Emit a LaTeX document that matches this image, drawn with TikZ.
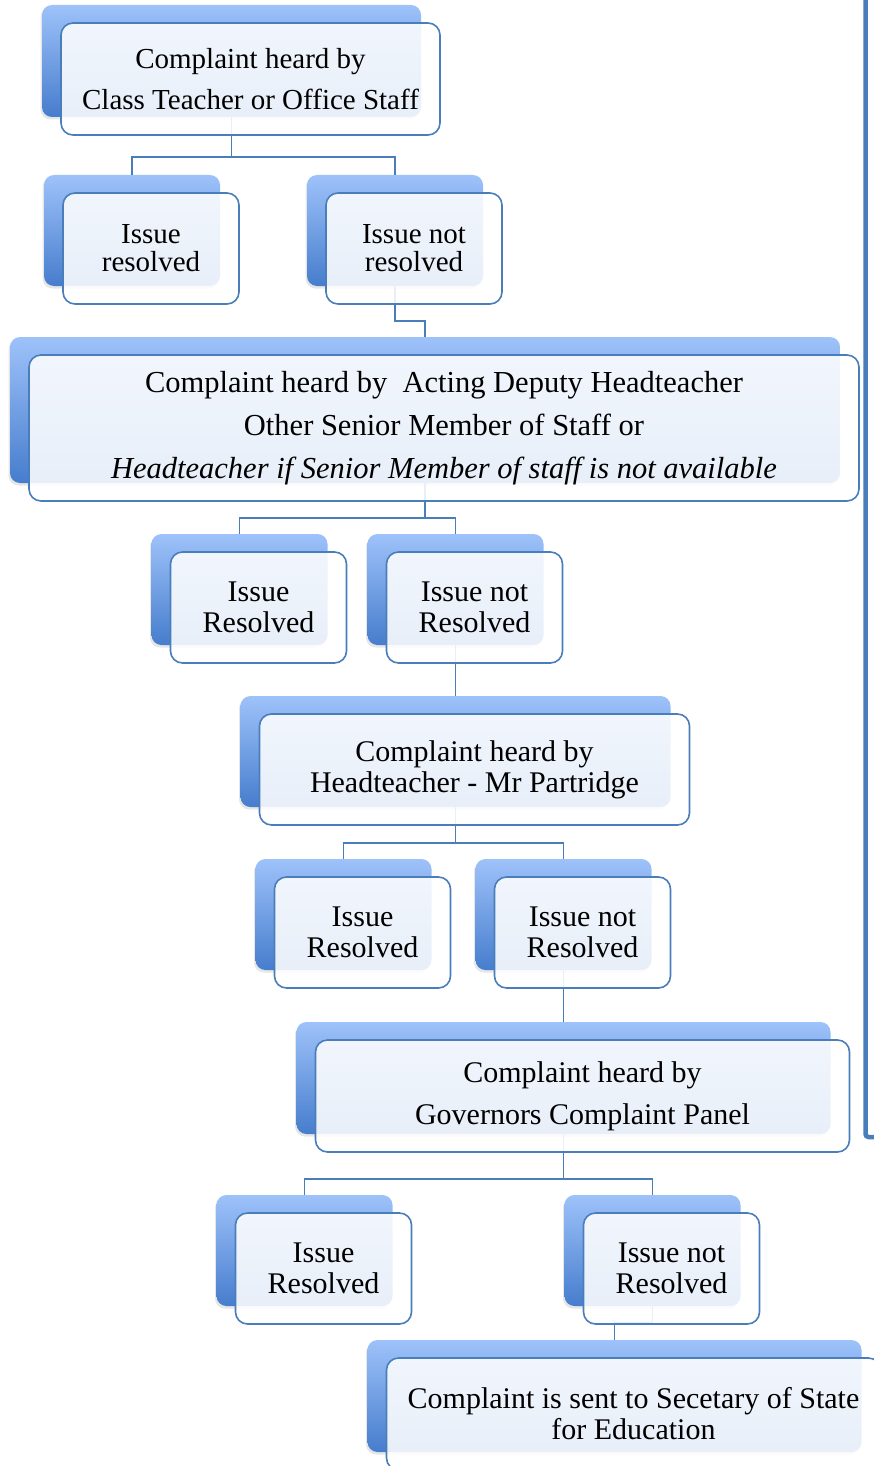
\documentclass[tikz,border=0pt]{standalone}
\usepackage{fontspec}
\setmainfont{Liberation Serif}
\usepackage{tikz}
\usetikzlibrary{positioning, shadows}
\definecolor{BackTop}{HTML}{9EC2FA}
\definecolor{BackBot}{HTML}{467DCD}
\definecolor{LineBlue}{HTML}{4A7EBB}
\tikzstyle{Back} = [
	rounded corners=10pt, inner sep=0pt, outer sep=0pt,
	top color=BackTop, bottom color=BackBot,
	drop shadow={shadow xshift=-1.5pt, shadow yshift=-2.5pt, opacity=0.2}
	]
\tikzstyle{Front} = [
	rounded corners=12pt, inner sep=0pt, outer sep=0pt,
	draw=LineBlue, line width=1.6pt,
	fill=white, fill opacity=0.88, text opacity=1,
	align=center
	]
\tikzstyle{Small} = [minimum width=176pt, minimum height=111pt]
\tikzstyle{Tight} = [font=\fontsize{30}{31}\selectfont]
\tikzstyle{Loose} = [font=\fontsize{30}{42}\selectfont]
\tikzstyle{Link} = [draw=LineBlue, line width=1.9pt]

\begin{document}
\begin{tikzpicture}[x=1pt, y=-1pt]
	\path[use as bounding box, clip] (0,0) rectangle (874,1466);
	%back boxes:
		\node [Back, minimum width=379pt, minimum height=112pt] (1) at (231.5,61) {};
		\node [Back, Small, below=58pt of 1, xshift=-99.5pt] (2) {};
		\node [Back, Small, right=87pt of 2] (3) {};
		\node [Back, minimum width=830pt, minimum height=146pt, below=51pt of 3, xshift=30pt] (4) {};
		\node [Back, Small, below=51pt of 4, xshift=-185.5pt] (5) {};
		\node [Back, Small, right=40pt of 5] (6) {};
		\node [Back, minimum width=430pt, minimum height=111pt, below=51pt of 6] (7) {};
		\node [Back, Small, below=52pt of 7, xshift=-112pt] (8) {};
		\node [Back, Small, right=44pt of 8] (9) {};
		\node [Back, minimum width=534pt, minimum height=112pt, below=52pt of 9] (10) {};
		\node [Back, Small, below=61pt of 10, xshift=-259pt] (11) {};
		\node [Back, Small, right=172pt of 11] (12) {};
		\node [Back, minimum width=494pt, minimum height=112pt, below=34pt of 12, xshift=-38pt] (13) {};
	%edges:
		\draw[Link] (1.south) -- ++(0,-40pt) -| (2.north);
		\draw[Link] (1.south) -- ++(0,-40pt) -| (3.north);
		\draw[Link] (3.south) -- ++(0,-35pt) -| (4.north);
		\draw[Link] (4.south) -- ++(0,-35pt) -| (5.north);
		\draw[Link] (4.south) -- ++(0,-35pt) -| (6.north);
		\draw[Link] (6.south) -- (7.north);
		\draw[Link] (7.south) -- ++(0,-36pt) -| (8.north);
		\draw[Link] (7.south) -- ++(0,-36pt) -| (9.north);
		\draw[Link] (9.south) -- (10.north);
		\draw[Link] (10.south) -- ++(0,-45pt) -| (11.north);
		\draw[Link] (10.south) -- ++(0,-45pt) -| (12.north);
		\draw[Link] (12.south) -- ++(0,-17pt) -| (13.north);
	%text boxes:
		\node [Front, minimum width=379pt, minimum height=112pt, font=\fontsize{29}{41}\selectfont,
			below right=18pt and 19pt of 1.north west] (1t) {Complaint heard by\\Class Teacher or Office Staff};
		\node [Front, Small, font=\fontsize{29}{28}\selectfont, below right=18pt and 19pt of 2.north west] (2t) {Issue\\resolved};
		\node [Front, Small, font=\fontsize{29}{28}\selectfont, below right=18pt and 19pt of 3.north west] (3t) {Issue not\\resolved};
		\node [Front, minimum width=830pt, minimum height=146pt, font=\fontsize{30.5}{43}\selectfont,
			below right=18pt and 19pt of 4.north west] (4t) {Complaint heard by\ \ Acting Deputy Headteacher\\Other Senior Member of Staff or\\\textit{Headteacher if Senior Member of staff is not available}};
		\node [Front, Small, Tight, below right=18pt and 19pt of 5.north west] (5t) {Issue\\Resolved};
		\node [Front, Small, Tight, below right=18pt and 19pt of 6.north west] (6t) {Issue not\\Resolved};
		\node [Front, minimum width=430pt, minimum height=111pt, Tight,
			below right=18pt and 19pt of 7.north west] (7t) {Complaint heard by\\Headteacher - Mr Partridge};
		\node [Front, Small, Tight, below right=18pt and 19pt of 8.north west] (8t) {Issue\\Resolved};
		\node [Front, Small, Tight, below right=18pt and 19pt of 9.north west] (9t) {Issue not\\Resolved};
		\node [Front, minimum width=534pt, minimum height=112pt, Loose,
			below right=18pt and 19pt of 10.north west] (10t) {Complaint heard by\\Governors Complaint Panel};
		\node [Front, Small, Tight, below right=18pt and 19pt of 11.north west] (11t) {Issue\\Resolved};
		\node [Front, Small, Tight, below right=18pt and 19pt of 12.north west] (12t) {Issue not\\Resolved};
		\node [Front, minimum width=494pt, minimum height=112pt, Tight,
			below right=18pt and 19pt of 13.north west] (13t) {Complaint is sent to Secetary of State\\for Education};
	%page border:
		\draw[LineBlue, line width=4.5pt, rounded corners=3pt] (865.5,-10) -- (865.5,1137) -- (885,1137);
\end{tikzpicture}
\end{document}
